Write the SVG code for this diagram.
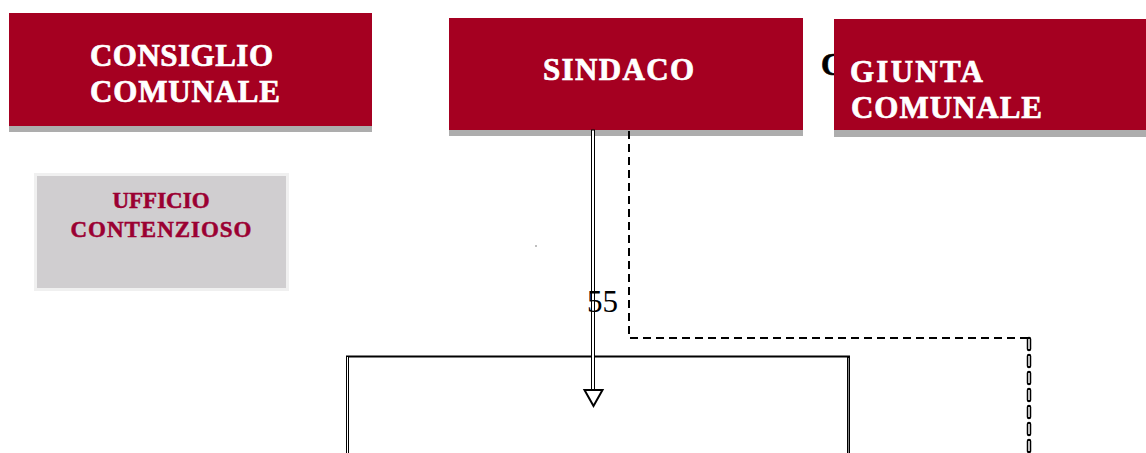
<svg xmlns="http://www.w3.org/2000/svg" width="1146" height="453" viewBox="0 0 1146 453">
<style>
.red{fill:#a50021}
.sh{fill:#adadad}
.wt{font-family:"Liberation Serif",serif;font-weight:bold;font-size:31px;fill:#ffffff;stroke:#ffffff;stroke-width:0.7px}
.ut{font-family:"Liberation Serif",serif;font-weight:bold;font-size:23px;fill:#9b0032;stroke:#9b0032;stroke-width:0.5px}
.bt{font-family:"Liberation Serif",serif;font-size:31px;fill:#000000}
</style>
<rect width="1146" height="453" fill="#ffffff"/>
<g id="consiglio">
<rect class="sh" x="9" y="126" width="363" height="6"/>
<rect class="red" x="9" y="13" width="363" height="113"/>
<text class="wt" x="90" y="66" textLength="183">CONSIGLIO</text>
<text class="wt" x="90" y="102" textLength="190">COMUNALE</text>
</g>
<g id="sindaco">
<rect class="sh" x="449" y="130" width="354" height="6"/>
<rect class="red" x="449" y="18" width="354" height="112"/>
<text class="wt" x="543" y="80" textLength="151">SINDACO</text>
</g>
<g id="hidden-c">
<text class="bt" x="821" y="75" font-weight="bold" stroke="#000" stroke-width="0.7">C</text>
</g>
<g id="giunta">
<rect class="sh" x="834" y="130" width="312" height="7"/>
<rect class="red" x="834" y="19" width="312" height="111"/>
<text class="wt" x="850" y="82" textLength="133">GIUNTA</text>
<text class="wt" x="851" y="118" textLength="191">COMUNALE</text>
</g>
<g id="ufficio">
<rect x="34" y="173" width="255" height="118" fill="#f0f0f0"/>
<rect x="37" y="176" width="249" height="112" fill="#d0ced0"/>
<text class="ut" x="161" y="208" text-anchor="middle">UFFICIO</text>
<text class="ut" x="161" y="237" text-anchor="middle" textLength="181">CONTENZIOSO</text>
</g>
<g id="connectors">
<rect x="535.5" y="245.5" width="1" height="1" fill="#000"/>
<line x1="346" y1="356.5" x2="850" y2="356.5" stroke="#000" stroke-width="2"/>
<rect x="346.5" y="356.5" width="2" height="100" fill="#fff" stroke="#000" stroke-width="1"/>
<rect x="847.5" y="357.5" width="2" height="100" fill="#888" stroke="#000" stroke-width="1"/>
<path d="M629 131 V338 H1029" fill="none" stroke="#000" stroke-width="2" stroke-dasharray="8,5"/>
<line x1="1029" y1="339" x2="1029" y2="453" stroke="#000" stroke-width="4.5" stroke-dasharray="10,7" stroke-linecap="round"/>
<line x1="1029" y1="339" x2="1029" y2="453" stroke="#fff" stroke-width="1.5" stroke-dasharray="10,7" stroke-linecap="butt"/>
<rect x="591.5" y="130" width="3" height="260" fill="#fff" stroke="#000" stroke-width="1"/>
<path d="M584.5 390 H602.5 L593.5 406 Z" fill="#fff" stroke="#000" stroke-width="2" stroke-linejoin="miter"/>
<text class="bt" x="587" y="312">55</text>
</g>
</svg>
